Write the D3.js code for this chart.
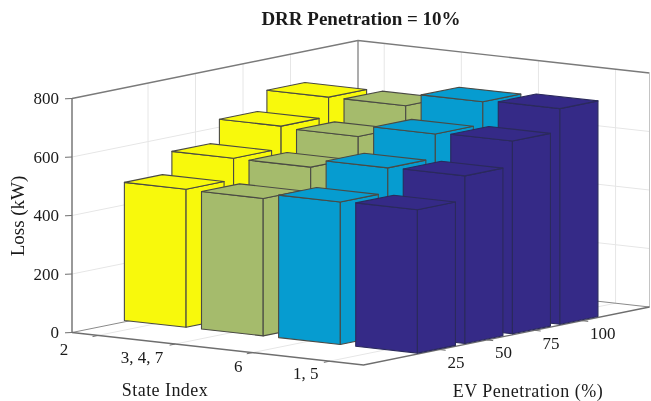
<!DOCTYPE html>
<html><head><meta charset="utf-8">
<script src="https://cdn.jsdelivr.net/npm/d3@7"></script>
<style>html,body{margin:0;padding:0;background:#fff}svg{display:block;filter:blur(.4px)}text{font-family:"Liberation Serif",serif;fill:#1a1a1a}</style>
</head><body><svg id="c" width="651" height="401"></svg>
<script>
const stateLabels = ["2", "3, 4, 7", "6", "1, 5"];
const evLabels = ["25", "50", "75", "100"];
const zTicks = [0, 200, 400, 600, 800];
const colors = ["#f8f90c", "#a5bb6c", "#069cd0", "#352a87"];
const state2 = [472, 545, 622, 688];
const state347 = [470, 544, 616, 688];
const state6 = [487, 571, 654, 731];
const state15 = [490, 573, 659, 737];
const series = [state2, state347, state6, state15];

const svg = d3.select("#c");
const W = 651, H = 401;
const origin = [72, 332.5], uVec = [291.5, 32.5], vVec = [286, -58];
const su = d3.scaleLinear().domain([0.66, 4.44]).range([0, 1]);
const sv = d3.scaleLinear().domain([-0.6, 5.42]).range([0, 1]);
const sz = d3.scaleLinear().domain([0, 800]).range([0, 234]);
const sMin = su.domain()[0], sMax = su.domain()[1], eMin = sv.domain()[0], eMax = sv.domain()[1];
function P(s, e, z) {
  const u = su(s), v = sv(e);
  return [origin[0] + u * uVec[0] + v * vVec[0], origin[1] + u * uVec[1] + v * vVec[1] - sz(z)];
}
const line = d3.line();
function seg(pts, stroke, w) {
  svg.append("path").attr("d", line(pts)).attr("fill", "none").attr("stroke", stroke).attr("stroke-width", w);
}
const grid = "#e6e6e6", axis = "#6e6e6e", zTop = 800;
// back walls and floor grid
zTicks.slice(1, -1).forEach(z => {
  seg([P(sMin, eMin, z), P(sMin, eMax, z), P(sMax, eMax, z)], grid, 1);
});
evLabels.forEach((_, i) => {
  const e = i + 1;
  seg([P(sMin, e, zTop), P(sMin, e, 0), P(sMax, e, 0)], grid, 1);
});
stateLabels.forEach((_, i) => {
  const s = i + 1;
  seg([P(s, eMax, zTop), P(s, eMax, 0), P(s, eMin, 0)], grid, 1);
});
// box
seg([P(sMin, eMin, zTop), P(sMin, eMax, zTop), P(sMax, eMax, zTop)], "#7a7a7a", 1.4);
seg([P(sMin, eMax, 0), P(sMin, eMax, zTop)], "#8a8a8a", 1.4);
seg([P(sMax, eMax, 0), P(sMax, eMax, zTop)], "#c4c4c4", 1);
seg([P(sMin, eMin, 0), P(sMin, eMax, 0), P(sMax, eMax, 0)], "#8a8a8a", 1);
seg([P(sMin, eMin, 0), P(sMax, eMin, 0), P(sMax, eMax, 0)], axis, 1.4);
seg([P(sMin, eMin, 0), P(sMin, eMin, zTop)], axis, 1.4);
// ticks
zTicks.forEach(z => {
  const p = P(sMin, eMin, z);
  seg([p, [p[0] - 7, p[1] + 0.3]], axis, 1);
  svg.append("text").attr("x", 59).attr("y", p[1]).attr("dy", "0.35em").attr("text-anchor", "end")
    .attr("font-size", 17).text(z);
});
const stateDx = [-30, -12, -10, -11], stateDy = [14, 13, 13, 12];
stateLabels.forEach((t, i) => {
  const p = P(i + 1, eMin, 0);
  seg([p, P(i + 1, eMin - 0.12, 0)], axis, 1);
  svg.append("text").attr("x", p[0] + stateDx[i]).attr("y", p[1] + stateDy[i]).attr("dy", "0.35em")
    .attr("text-anchor", "end").attr("font-size", 17).text(t);
});
evLabels.forEach((t, i) => {
  const p = P(sMax, i + 1, 0);
  seg([p, P(sMax + 0.08, i + 1, 0)], axis, 1);
  svg.append("text").attr("x", p[0] + 8).attr("y", p[1] + 12.5).attr("dy", "0.35em")
    .attr("font-size", 17).text(t);
});
// bars, back to front
const hw = 0.4;
for (let e = evLabels.length; e >= 1; e--) {
  series.forEach((vals, k) => {
    const s = k + 1, z = vals[e - 1], c = colors[k];
    const faces = [
      [P(s - hw, e - hw, 0), P(s + hw, e - hw, 0), P(s + hw, e - hw, z), P(s - hw, e - hw, z)],
      [P(s + hw, e - hw, 0), P(s + hw, e + hw, 0), P(s + hw, e + hw, z), P(s + hw, e - hw, z)],
      [P(s - hw, e - hw, z), P(s + hw, e - hw, z), P(s + hw, e + hw, z), P(s - hw, e + hw, z)]
    ];
    faces.forEach(f => svg.append("path").attr("d", line(f) + "Z").attr("fill", c)
      .attr("stroke", k === 3 ? "#2b2a5c" : "#4a4a44").attr("stroke-width", 1.1).attr("stroke-linejoin", "round"));
  });
}
// titles
svg.append("text").attr("x", 361).attr("y", 18).attr("dy", "0.35em").attr("text-anchor", "middle")
  .attr("font-size", 19).attr("font-weight", "bold").text("DRR Penetration = 10%");
svg.append("text").attr("transform", "translate(17,216) rotate(-90)").attr("dy", "0.35em").attr("text-anchor", "middle")
  .attr("font-size", 19).text("Loss (kW)");
svg.append("text").attr("x", 165).attr("y", 390).attr("dy", "0.35em").attr("text-anchor", "middle")
  .attr("font-size", 18).attr("letter-spacing", 0.45).text("State Index");
svg.append("text").attr("x", 528).attr("y", 391).attr("dy", "0.35em").attr("text-anchor", "middle")
  .attr("font-size", 18).attr("letter-spacing", 0.5).text("EV Penetration (%)");
</script></body></html>
